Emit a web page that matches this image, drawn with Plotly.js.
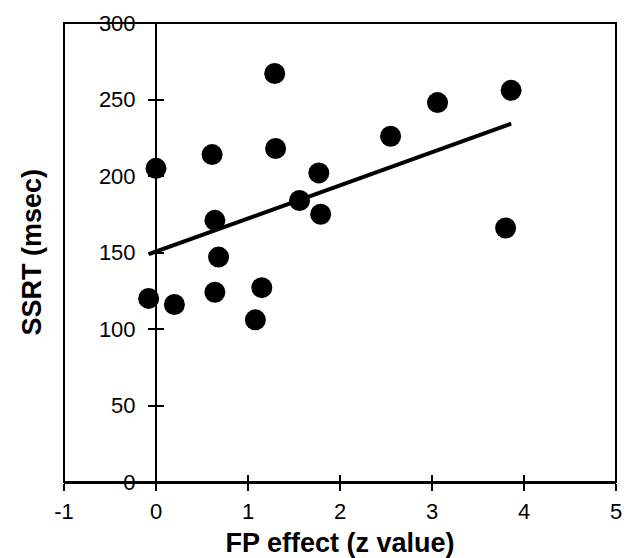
<!DOCTYPE html>
<html>
<head>
<meta charset="utf-8">
<script src="https://cdn.plot.ly/plotly-3.0.1.min.js"></script>
<style>html,body{margin:0;padding:0;background:#fff;}#chart{width:632px;height:558px;}</style>
</head>
<body>
<div id="chart"></div>
<script>
// FP effect (z value) per subject
const fpEffect = [0.00, 0.61, 0.64, 0.68, -0.08, 0.20, 0.64, 1.29, 1.30, 1.77, 1.56, 1.79, 1.15, 1.08, 2.55, 3.06, 3.86, 3.80];
// SSRT (msec) per subject
const ssrt = [205, 214, 171, 147, 120, 116, 124, 267, 218, 202, 184, 175, 127, 106, 226, 248, 256, 166];
const xTicks = [-1, 0, 1, 2, 3, 4, 5];
const yTicks = [0, 50, 100, 150, 200, 250, 300];

// least-squares fit line, spanning the data's x range
const n = fpEffect.length;
const mx = fpEffect.reduce((a, b) => a + b, 0) / n;
const my = ssrt.reduce((a, b) => a + b, 0) / n;
let sxy = 0, sxx = 0;
for (let i = 0; i < n; i++) { sxy += (fpEffect[i] - mx) * (ssrt[i] - my); sxx += (fpEffect[i] - mx) ** 2; }
const slope = sxy / sxx, icpt = my - slope * mx;
const xmin = Math.min(...fpEffect), xmax = Math.max(...fpEffect);
const fitX = [xmin, xmax];
const fitY = fitX.map(v => icpt + slope * v);

const font = 'Liberation Sans, Arial, sans-serif';
const traces = [
  {x: fitX, y: fitY, mode: 'lines', line: {color: '#000', width: 4}, hoverinfo: 'skip', showlegend: false},
  {x: fpEffect, y: ssrt, mode: 'markers', marker: {color: '#000', size: 21}, showlegend: false},
  {x: [null], y: [null], xaxis: 'x2', yaxis: 'y2', showlegend: false, hoverinfo: 'skip'}
];
const xpos = (0 - (-1)) / (5 - (-1));
const layout = {
  width: 632, height: 558,
  margin: {l: 64, r: 16, t: 23, b: 76},
  paper_bgcolor: '#fff', plot_bgcolor: '#fff',
  font: {family: font, color: '#000', size: 22},
  xaxis: {
    range: [-1, 5], tickvals: xTicks, ticktext: xTicks.map(String),
    showgrid: false, zeroline: false, showline: true, linecolor: '#000', linewidth: 2,
    ticks: 'outside', ticklen: 7, tickwidth: 2, tickcolor: '#000',
    tickfont: {size: 22, family: font}, ticklabelstandoff: 2,
    title: {text: 'FP effect (z value)', font: {size: 27, family: font, weight: 'bold'}, standoff: 10}
  },
  xaxis2: {
    range: [-1, 5], overlaying: 'x', anchor: 'y', tickvals: xTicks, showticklabels: false,
    showgrid: false, zeroline: false, showline: false,
    ticks: 'inside', ticklen: 7, tickwidth: 2, tickcolor: '#000'
  },
  yaxis: {
    range: [0, 300], tickvals: yTicks, ticktext: yTicks.map(String),
    anchor: 'free', position: xpos,
    showgrid: false, zeroline: false, showline: true, linecolor: '#000', linewidth: 2,
    ticks: 'outside', ticklen: 7, tickwidth: 2, tickcolor: '#000',
    tickfont: {size: 22, family: font}, ticklabelstandoff: 8
  },
  yaxis2: {
    range: [0, 300], overlaying: 'y', anchor: 'free', position: xpos, tickvals: yTicks, showticklabels: false,
    showgrid: false, zeroline: false, showline: false,
    ticks: 'inside', ticklen: 7, tickwidth: 2, tickcolor: '#000'
  },
  annotations: [{
    text: '<b>SSRT (msec)</b>', xref: 'paper', yref: 'paper', x: (31 - 64) / 552, y: 0.5,
    xanchor: 'center', yanchor: 'middle', textangle: -90, showarrow: false,
    font: {size: 27, family: font, color: '#000'}
  }],
  shapes: [{type: 'rect', xref: 'paper', yref: 'paper', x0: 0, x1: 1, y0: 0, y1: 1, line: {color: '#000', width: 2}, layer: 'above'}]
};
Plotly.newPlot('chart', traces, layout, {displayModeBar: false, staticPlot: true});
</script>
</body>
</html>
